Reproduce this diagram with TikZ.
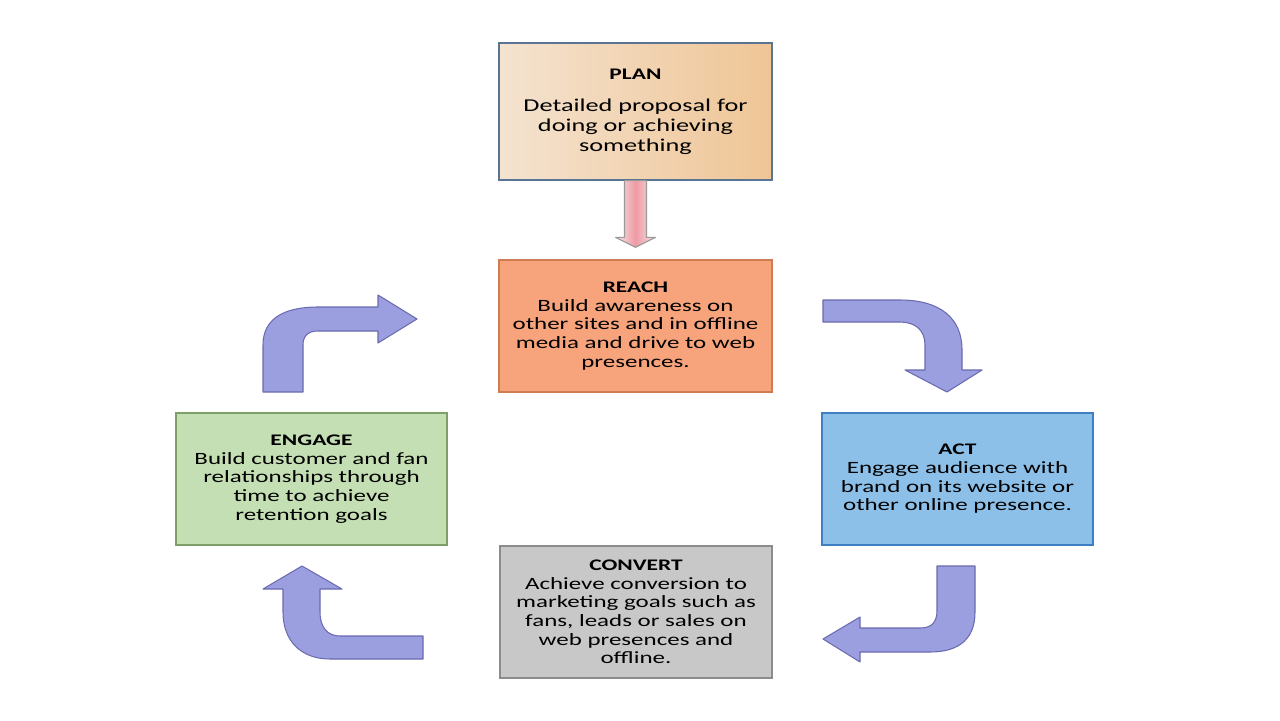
\documentclass[tikz,border=0pt]{standalone}
\usepackage{fontspec}
\setmainfont[FakeStretch=1.45]{Carlito}
\usetikzlibrary{calc}
\definecolor{planleft}{HTML}{F4E3D0}
\definecolor{planright}{HTML}{EFC596}
\definecolor{plandraw}{HTML}{5A7594}
\definecolor{reachfill}{HTML}{F7A47C}
\definecolor{reachdraw}{HTML}{CF7C55}
\definecolor{actfill}{HTML}{8DC0E8}
\definecolor{actdraw}{HTML}{3E7FC1}
\definecolor{convfill}{HTML}{C8C8C8}
\definecolor{convdraw}{HTML}{8C8C8C}
\definecolor{engfill}{HTML}{C5DFB4}
\definecolor{engdraw}{HTML}{7F9F6A}
\definecolor{bentfill}{HTML}{9B9EDF}
\definecolor{bentdraw}{HTML}{6B6BB0}
\definecolor{pinkedge}{HTML}{F7E6E6}
\definecolor{pinkmid}{HTML}{EE9AA5}
\newcommand{\ttl}[1]{{\fontsize{9.2}{10.5}\selectfont\textbf{#1}}}

\begin{document}
\begin{tikzpicture}[x=0.02cm, y=-0.02cm,
box/.style={draw, line width=0.8pt, align=center, inner sep=2pt,
  minimum width=5.44cm, minimum height=2.64cm, font=\fontsize{9.8}{10.6}\selectfont},
bent/.style={fill=bentfill, draw=bentdraw, line width=0.6pt, line join=round}
]
\useasboundingbox[fill=white] (0,0) rectangle (1280,720);

\node[box, minimum width=5.46cm, minimum height=2.74cm, draw=plandraw,
  left color=planleft, right color=planright, font=\fontsize{10.3}{11.3}\selectfont]
  (plan) at (635.5,111.5) {\ttl{PLAN}\\[7pt] Detailed proposal for\\ doing or achieving\\ something};
\node[box, minimum width=5.46cm, fill=reachfill, draw=reachdraw] (reach) at (635.5,326)
  {\ttl{REACH}\\ Build awareness on\\ other sites and in offline\\ media and drive to web\\ presences.};
\node[box, minimum width=5.42cm, fill=actfill, draw=actdraw] (act) at (957.5,479)
  {\ttl{ACT}\\ Engage audience with\\ brand on its website or\\ other online presence.};
\node[box, fill=convfill, draw=convdraw] (convert) at (636,612)
  {\ttl{CONVERT}\\ Achieve conversion to\\ marketing goals such as\\ fans, leads or sales on\\ web presences and\\ offline.};
\node[box, minimum width=5.42cm, fill=engfill, draw=engdraw] (engage) at (311.5,479)
  {\ttl{ENGAGE}\\ Build customer and fan\\ relationships through\\ time to achieve\\ retention goals};

\draw[draw=gray!80, line width=0.6pt, line join=round,
  left color=pinkedge, right color=pinkedge, middle color=pinkmid]
  ($(plan.south)+(-11,0)$) -- ($(plan.south)+(11,0)$) -- ($(reach.north)+(11,-22)$)
  -- ($(reach.north)+(20,-22)$) -- ($(reach.north)+(0,-12)$) -- ($(reach.north)+(-20,-22)$)
  -- ($(reach.north)+(-11,-22)$) -- cycle;

\draw[bent] (263,392) -- (263,345) .. controls (263,318) and (285,307) .. (318,307)
  -- (378,307) -- (378,295) -- (417,319) -- (378,343) -- (378,331) -- (318,331)
  .. controls (308,331) and (303,336) .. (303,345) -- (303,392) -- cycle;
\draw[bent] (823,300) -- (900,300) .. controls (940,300) and (962,318) .. (962,350)
  -- (962,370) -- (982,370) -- (947,392) -- (905,370) -- (925,370) -- (925,345)
  .. controls (925,330) and (915,322) .. (900,322) -- (823,322) -- cycle;
\draw[bent] (937,566) -- (975,566) -- (975,612) .. controls (975,638) and (960,652) .. (930,652)
  -- (860,652) -- (860,662) -- (823,639) -- (860,617) -- (860,628) -- (920,628)
  .. controls (932,628) and (937,622) .. (937,610) -- cycle;
\draw[bent] (423,636) -- (423,659) -- (330,659) .. controls (300,659) and (283,640) .. (283,612)
  -- (283,589) -- (263,589) -- (302,566) -- (342,589) -- (320,589) -- (320,612)
  .. controls (320,628) and (328,636) .. (340,636) -- cycle;
\end{tikzpicture}
\end{document}
